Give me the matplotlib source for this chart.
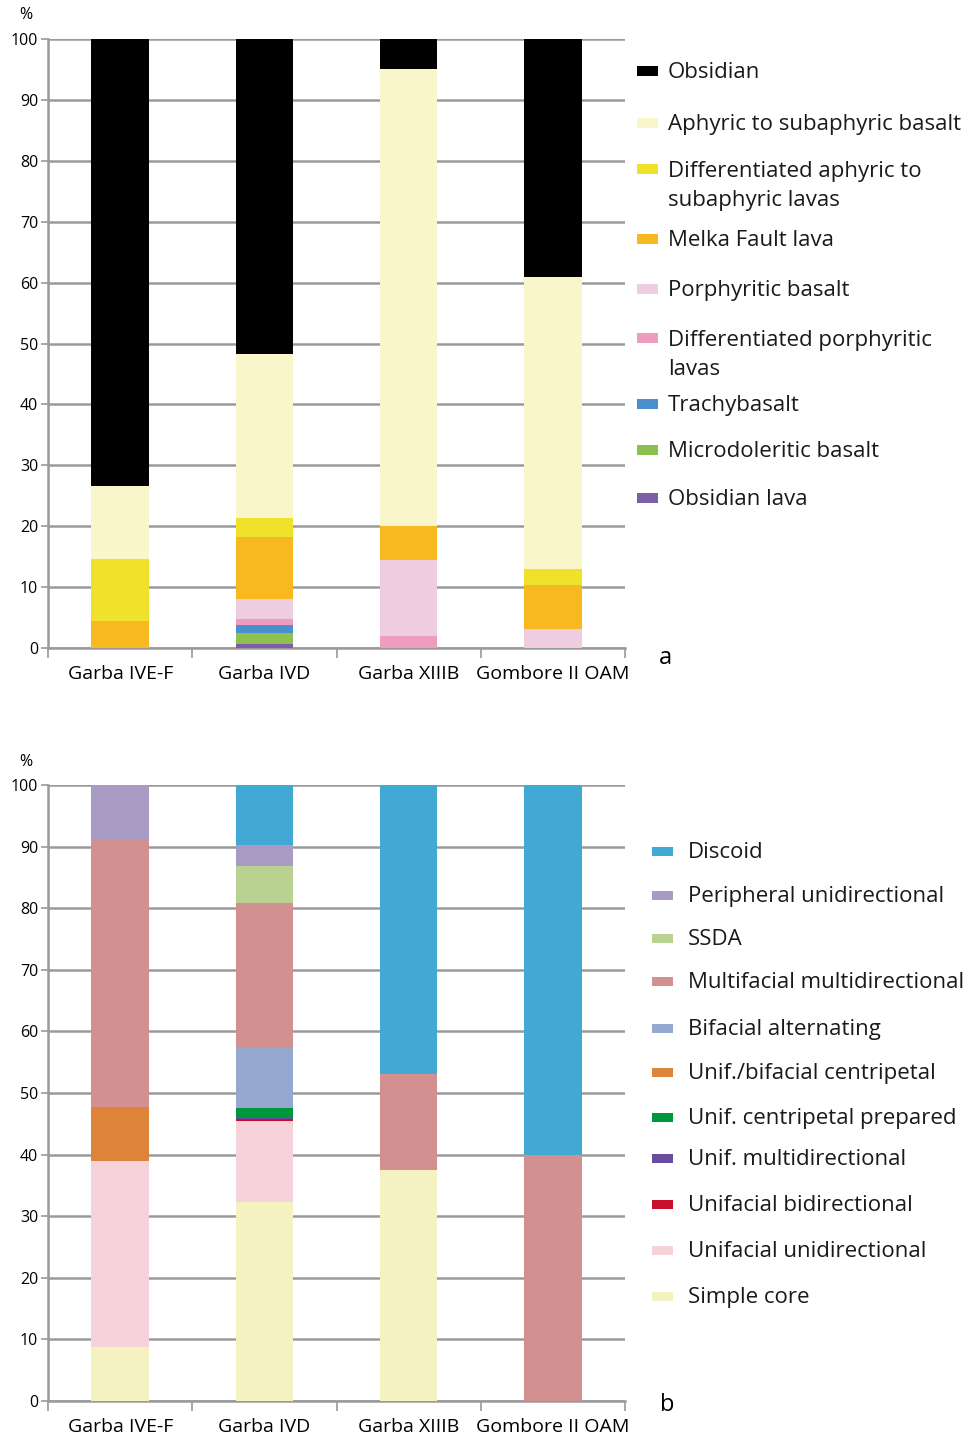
import matplotlib
matplotlib.use('Agg')
import matplotlib.pyplot as plt
from matplotlib.patches import Rectangle
import numpy as np

plt.rcParams['font.family'] = ['Open Sans', 'DejaVu Sans']

sites = ['Garba IVE-F', 'Garba IVD', 'Garba XIIIB', 'Gombore II OAM']

# panel a: raw material, stacked bottom -> top (percent of each assemblage)
raw_labels = ['Obsidian lava', 'Microdoleritic basalt', 'Trachybasalt',
              'Differentiated porphyritic\nlavas', 'Porphyritic basalt',
              'Melka Fault lava', 'Differentiated aphyric to\nsubaphyric lavas',
              'Aphyric to subaphyric basalt', 'Obsidian']
raw_colors = ['#7b5ea7', '#8cc150', '#4c8fcf', '#ee9cc0', '#efcde0',
              '#f8b920', '#f0e22a', '#faf6cc', '#000000']
obsidian_lava = [0.0, 0.6, 0.0, 0.0]
microdoleritic = [0.0, 1.8, 0.0, 0.0]
trachybasalt = [0.0, 1.3, 0.0, 0.0]
diff_porphyritic = [0.0, 1.1, 2.0, 0.0]
porphyritic = [0.0, 3.3, 12.5, 3.2]
melka_fault = [4.5, 10.1, 5.6, 7.1]
diff_aphyric = [10.1, 3.1, 0.0, 2.7]
aphyric = [12.0, 27.0, 74.9, 47.9]
obsidian = [73.4, 51.7, 5.0, 39.1]
raw_values = [obsidian_lava, microdoleritic, trachybasalt, diff_porphyritic,
              porphyritic, melka_fault, diff_aphyric, aphyric, obsidian]

# panel b: core reduction methods, stacked bottom -> top
core_labels = ['Simple core', 'Unifacial unidirectional', 'Unifacial bidirectional',
               'Unif. multidirectional', 'Unif. centripetal prepared',
               'Unif./bifacial centripetal', 'Bifacial alternating',
               'Multifacial multidirectional', 'SSDA', 'Peripheral unidirectional',
               'Discoid']
core_colors = ['#f3f2c0', '#f6d2da', '#c8102e', '#6a4c9c', '#00963c',
               '#dd843a', '#95a9d0', '#d39090', '#b9d292', '#a89cc4', '#42a8d4']
simple_core = [8.8, 32.3, 37.5, 0.0]
unif_unidir = [30.2, 13.2, 0.0, 0.0]
unif_bidir = [0.0, 0.2, 0.0, 0.0]
unif_multidir = [0.0, 0.4, 0.0, 0.0]
unif_prepared = [0.0, 1.5, 0.0, 0.0]
unif_bif_centripetal = [8.7, 0.0, 0.0, 0.0]
bifacial_alt = [0.0, 9.8, 0.0, 0.0]
multifacial = [43.4, 23.4, 15.6, 40.0]
ssda = [0.0, 6.0, 0.0, 0.0]
peripheral = [8.9, 3.4, 0.0, 0.0]
discoid = [0.0, 9.8, 46.9, 60.0]
core_values = [simple_core, unif_unidir, unif_bidir, unif_multidir, unif_prepared,
               unif_bif_centripetal, bifacial_alt, multifacial, ssda, peripheral,
               discoid]

W, H = 969, 1435
fig = plt.figure(figsize=(W / 100, H / 100), dpi=100)
grey = '#9a9a9a'


def px(x, y):
    return x / W, 1 - y / H


def stacked(ax, values, colors):
    x = np.arange(len(sites))
    bottom = np.zeros(len(sites))
    for vals, c in zip(values, colors):
        ax.bar(x, vals, width=0.4, bottom=bottom, color=c, linewidth=0, zorder=3)
        bottom += np.array(vals)
    ax.set_xlim(-0.5, len(sites) - 0.5)
    ax.set_ylim(0, 100)
    ax.set_yticks(range(0, 101, 10))
    ax.tick_params(axis='y', labelsize=11.5, length=5, width=1.2, color=grey, pad=2)
    ax.yaxis.grid(True, color=grey, linewidth=1.8, zorder=1)
    ax.set_axisbelow(True)
    ax.set_xticks(x)
    ax.set_xticklabels(sites, fontsize=14)
    ax.tick_params(axis='x', length=0, pad=12)
    ax.set_xticks(np.arange(-0.5, len(sites)), minor=True)
    ax.tick_params(axis='x', which='minor', length=7, width=1.2, color=grey)
    for s in ['top', 'right']:
        ax.spines[s].set_visible(False)
    for s in ['left', 'bottom']:
        ax.spines[s].set_color(grey)
        ax.spines[s].set_linewidth(1.8)


def legend(labels, colors, ys, x_patch, x_text):
    for lab, c, y in zip(labels, colors, ys):
        x0, y0 = px(x_patch, y + 4.5)
        fig.add_artist(Rectangle((x0, y0), 21 / W, 9 / H, color=c,
                                 transform=fig.transFigure, linewidth=0))
        # baseline of a multi-line text sits on its last line
        n = lab.count('\n')
        tx, ty = px(x_text, y + 7 + 30 * n)
        fig.text(tx, ty, lab, fontsize=16, va='baseline', ha='left',
                 linespacing=1.52, color='#1a1a1a')


# panel a
ax1 = fig.add_axes([48 / W, 1 - 648 / H, 577 / W, 609 / H])
stacked(ax1, raw_values, raw_colors)
legend(raw_labels[::-1], raw_colors[::-1],
       [71, 123, 169, 239, 289, 338, 404, 450, 498], 637, 668)
fig.text(*px(26, 15), '%', fontsize=11.5, ha='center', va='center')
fig.text(*px(665, 658), 'a', fontsize=17, ha='center', va='center')

# panel b
ax2 = fig.add_axes([48 / W, 1 - 1401 / H, 577 / W, 616 / H])
stacked(ax2, core_values, core_colors)
legend(core_labels[::-1], core_colors[::-1],
       [851, 895, 938, 981, 1028, 1072, 1117, 1158, 1204, 1250, 1296], 652, 688)
fig.text(*px(26, 762), '%', fontsize=11.5, ha='center', va='center')
fig.text(*px(667, 1405), 'b', fontsize=17, ha='center', va='center')

fig.savefig('out.png', dpi=100)
